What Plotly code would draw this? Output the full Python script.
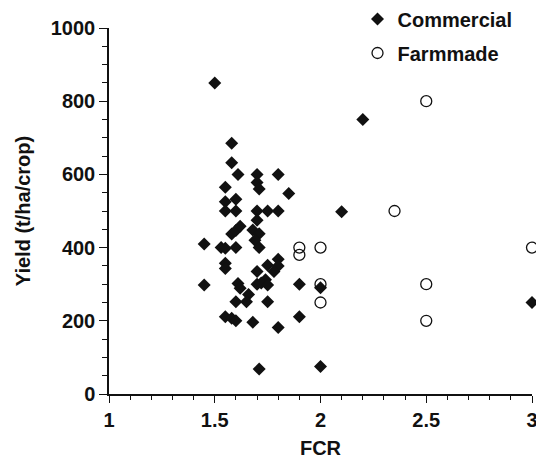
import plotly.graph_objects as go

# Commercial feed: FCR and yield (t/ha/crop)
commercial_fcr = [1.50, 1.58, 1.58, 1.61, 1.70, 1.80, 1.55, 1.70, 1.71, 1.85,
                  1.55, 1.60, 1.55, 1.60, 1.70, 1.75, 1.80, 1.70, 1.58, 1.60,
                  1.62, 1.68, 1.71, 1.69, 1.71, 1.45, 1.53, 1.55, 1.60, 1.55,
                  1.55, 1.45, 1.61, 1.62, 1.66, 1.65, 1.60, 1.75, 1.55, 1.58,
                  1.60, 1.68, 1.80, 1.71, 1.80, 1.80, 1.75, 1.70, 1.78, 1.74,
                  1.70, 1.72, 1.75, 1.90, 1.90, 2.00, 2.00, 2.10, 2.20, 3.00]
commercial_yield = [850, 685, 632, 600, 600, 600, 565, 578, 560, 548,
                    525, 532, 500, 500, 500, 500, 500, 475, 437, 447,
                    458, 448, 438, 420, 400, 410, 400, 398, 400, 357,
                    343, 298, 302, 289, 272, 252, 252, 252, 211, 207,
                    200, 196, 182, 68, 368, 350, 352, 335, 335, 312,
                    300, 303, 298, 300, 211, 290, 75, 498, 750, 250]

# Farm-made feed
farmmade_fcr = [2.50, 2.35, 1.90, 1.90, 2.00, 3.00, 2.00, 2.00, 2.50, 2.50]
farmmade_yield = [800, 500, 400, 380, 400, 400, 300, 250, 300, 200]

x_ticks = [1, 1.5, 2, 2.5, 3]
x_tick_labels = ["1", "1.5", "2", "2.5", "3"]
y_ticks = [0, 200, 400, 600, 800, 1000]
y_tick_labels = ["0", "200", "400", "600", "800", "1000"]

FONT = "Liberation Sans, Arial, Helvetica, sans-serif"

fig = go.Figure()
fig.add_trace(go.Scatter(
    x=commercial_fcr, y=commercial_yield, mode="markers", name="Commercial",
    marker=dict(symbol="diamond", size=10, color="#111111", line=dict(width=0)),
    cliponaxis=False, legend="legend",
))
fig.add_trace(go.Scatter(
    x=farmmade_fcr, y=farmmade_yield, mode="markers", name="Farmmade",
    marker=dict(symbol="circle-open", size=11, color="#111111", line=dict(width=1.3)),
    cliponaxis=False, legend="legend2",
))

axis_font = dict(family=FONT, size=20, color="#111111", weight="bold")
legend_font = dict(family=FONT, size=20, color="#111111", weight="bold")

fig.update_layout(
    width=536, height=459,
    margin=dict(l=109, r=4, t=28, b=65, autoexpand=False),
    paper_bgcolor="white", plot_bgcolor="white",
    font=dict(family=FONT, color="#111111"),
    showlegend=True,
    legend=dict(xref="container", yref="container", x=0.667, y=0.9586,
                xanchor="left", yanchor="middle", font=legend_font,
                bgcolor="rgba(0,0,0,0)", itemwidth=30),
    legend2=dict(xref="container", yref="container", x=0.667, y=0.8845,
                 xanchor="left", yanchor="middle", font=legend_font,
                 bgcolor="rgba(0,0,0,0)", itemwidth=30),
    xaxis=dict(
        range=[1, 3], tickvals=x_ticks, ticktext=x_tick_labels,
        showline=True, linecolor="#111111", linewidth=1.5,
        ticks="outside", ticklen=7, tickwidth=1.3, tickcolor="#111111",
        minor=dict(dtick=0.1, ticks="outside", ticklen=4, tickwidth=1.2, tickcolor="#111111", showgrid=False),
        showgrid=False, zeroline=False, tickfont=axis_font, automargin=False,
        ticklabeloverflow="allow",
        title=dict(text="FCR", font=axis_font, standoff=12),
    ),
    yaxis=dict(
        range=[0, 1000], tickvals=y_ticks, ticktext=y_tick_labels,
        showline=True, linecolor="#111111", linewidth=1.5,
        ticks="outside", ticklen=8, tickwidth=1.3, tickcolor="#111111",
        minor=dict(dtick=50, ticks="outside", ticklen=5, tickwidth=1.2, tickcolor="#111111", showgrid=False),
        showgrid=False, zeroline=False, tickfont=axis_font, automargin=False,
        ticklabeloverflow="allow",
        title=dict(text="Yield (t/ha/crop)", font=axis_font, standoff=15),
    ),
)

# remove the default page margin so the figure fills the window exactly
fig.write_html(
    "out.html",
    config={"displayModeBar": False},
    post_script="document.body.style.margin='0';document.body.style.overflow='hidden';",
)
